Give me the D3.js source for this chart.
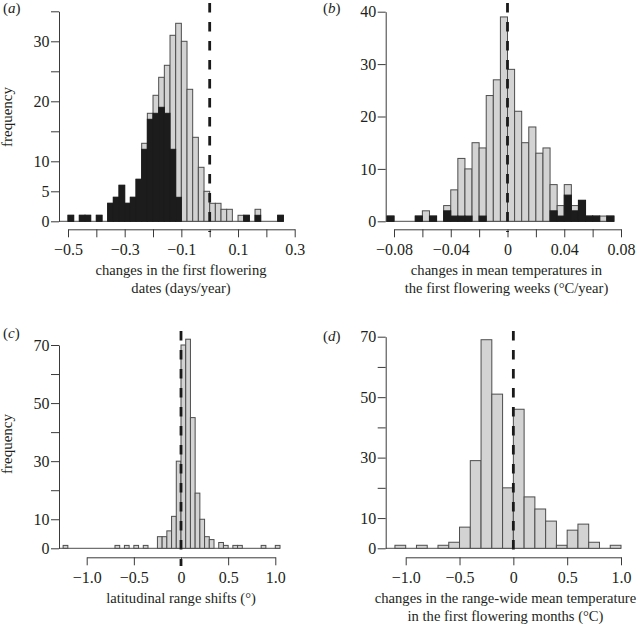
<!DOCTYPE html>
<html><head><meta charset="utf-8">
<script src="https://cdn.jsdelivr.net/npm/d3@7/dist/d3.min.js"></script>
<style>
body{margin:0;background:#fff}
text{font-family:"Liberation Serif","Times New Roman",serif;fill:#231f20}
</style>
</head><body><svg id="c" width="642" height="624"></svg>
<script>
// ---------- data ----------
const aEdges = [-0.50,-0.48,-0.46,-0.44,-0.42,-0.40,-0.38,-0.36,-0.34,-0.32,-0.30,-0.28,-0.26,-0.24,-0.22,-0.20,-0.18,-0.16,-0.14,-0.12,-0.10,-0.08,-0.06,-0.04,-0.02,0.00,0.02,0.04,0.06,0.08,0.10,0.12,0.14,0.16,0.18,0.20,0.22,0.24];
const aTotal = [1,0,1,1,0,1,0,3,4,6,3,4,7,13,18,21,24,26,31,33,30,22,14,9,5,3,3,2,2,0,1,1,0,2,0,0,0,1];
const aBlack = [1,0,1,1,0,1,0,3,4,6,3,4,7,12,17,18,19,18,12,4,0,0,0,0,0,0,0,0,0,0,0,1,0,1,0,0,0,1];
const aBin = 0.02;

const bEdges = [-0.085,-0.080,-0.075,-0.070,-0.065,-0.060,-0.055,-0.050,-0.045,-0.040,-0.035,-0.030,-0.025,-0.020,-0.015,-0.010,-0.005,0.000,0.005,0.010,0.015,0.020,0.025,0.030,0.035,0.040,0.045,0.050,0.055,0.060,0.065,0.070];
const bTotal = [1,0,0,0,1,2,1,0,3,6,12,10,15,14,24,27,39,29,21,15,18,13,14,7,3,7,3,4,1,1,1,1];
const bBlack = [1,0,0,0,1,0,1,0,2,1,1,1,0,1,0,0,0,0,0,0,0,0,0,2,1,5,2,4,1,1,0,1];
const bBin = 0.005;

const cEdges = [-1.25,-1.20,-1.15,-1.10,-1.05,-1.00,-0.95,-0.90,-0.85,-0.80,-0.75,-0.70,-0.65,-0.60,-0.55,-0.50,-0.45,-0.40,-0.35,-0.30,-0.25,-0.20,-0.15,-0.10,-0.05,0.00,0.05,0.10,0.15,0.20,0.25,0.30,0.35,0.40,0.45,0.50,0.55,0.60,0.65,0.70,0.75,0.80,0.85,0.90,0.95,1.00];
const cCounts = [1,0,0,0,0,0,0,0,0,0,0,1,0,1,0,1,0,1,0,0,4,4,6,11,30,70,72,45,19,10,4,3,0,2,1,0,1,1,0,0,0,0,1,0,0,1];
const cBin = 0.05;

const dEdges = [-1.1,-1.0,-0.9,-0.8,-0.7,-0.6,-0.5,-0.4,-0.3,-0.2,-0.1,0.0,0.1,0.2,0.3,0.4,0.5,0.6,0.7,0.8,0.9];
const dCounts = [1,0,1,0,1,2,7,29,69,51,20,46,17,13,9,1,6,8,2,0,1];
const dBin = 0.1;

// ticks
const aXTicks = [-0.5,-0.4,-0.3,-0.2,-0.1,0,0.1,0.2,0.3];
const aXLabeled = [-0.5,-0.3,-0.1,0.1,0.3];
const aYTicks = [0,5,10,15,20,25,30,35];
const aYLabeled = [0,5,10,20,30];
const bXTicks = [-0.08,-0.06,-0.04,-0.02,0,0.02,0.04,0.06,0.08];
const bXLabeled = [-0.08,-0.04,0,0.04,0.08];
const bYTicks = [0,10,20,30,40];
const bYLabeled = [0,10,20,30,40];
const cXTicks = [-1,-0.5,0,0.5,1];
const cXLabeled = [-1,-0.5,0,0.5,1];
const cYTicks = [0,10,20,30,40,50,60,70];
const cYLabeled = [0,10,30,50,70];
const dXTicks = [-1,-0.5,0,0.5,1];
const dXLabeled = [-1,-0.5,0,0.5,1];
const dYTicks = [0,10,20,30,40,50,60,70];
const dYLabeled = [0,10,30,50,70];

const aTitle = ["changes in the first flowering","dates (days/year)"];
const bTitle = ["changes in mean temperatures in","the first flowering weeks (\u00B0C/year)"];
const cTitle = ["latitudinal range shifts (\u00B0)"];
const dTitle = ["changes in the range-wide mean temperature","in the first flowering months (\u00B0C)"];

// ---------- drawing ----------
const svg = d3.select("#c");
const FS = 14.6, TFS = 16;
const GREY = "#d3d3d3", EDGE = "#4d4d4d", BLACK = "#1c1c1c", AX = "#3a3a3a";

function minusFmt(dec){
  return d => d === 0 ? "0" : d3.format("." + dec + "f")(d).replace("-", "\u2212");
}

function panel(p){
  const g = svg.append("g");
  const x = d3.scaleLinear().domain(p.xDom).range(p.xRange);
  const y = d3.scaleLinear().domain(p.yDom).range(p.yRange);
  const y0 = y(0);

  // baseline
  const lastEnd = p.edges[p.edges.length-1] + p.bin;
  g.append("line").attr("x1", p.yAxisX).attr("x2", x(lastEnd))
    .attr("y1", y0).attr("y2", y0).attr("stroke", EDGE).attr("stroke-width", 1);

  const idx = d3.range(p.edges.length);
  g.append("g").selectAll("rect").data(idx.filter(i => p.total[i] > 0)).join("rect")
    .attr("x", i => x(p.edges[i]))
    .attr("width", i => x(p.edges[i] + p.bin) - x(p.edges[i]))
    .attr("y", i => y(p.total[i]))
    .attr("height", i => y0 - y(p.total[i]))
    .attr("fill", GREY).attr("stroke", EDGE).attr("stroke-width", 1);
  if (p.black){
    g.append("g").selectAll("rect").data(idx.filter(i => p.black[i] > 0)).join("rect")
      .attr("x", i => x(p.edges[i]))
      .attr("width", i => x(p.edges[i] + p.bin) - x(p.edges[i]))
      .attr("y", i => y(p.black[i]))
      .attr("height", i => y0 - y(p.black[i]))
      .attr("fill", BLACK).attr("stroke", BLACK).attr("stroke-width", 1);
  }

  // y axis
  const fy = d3.format("d");
  g.append("g").attr("transform", `translate(${p.yAxisX},0)`)
    .attr("color", AX)
    .call(d3.axisLeft(y).tickValues(p.yTicks).tickSizeInner(8).tickSizeOuter(0).tickPadding(1.5)
      .tickFormat(d => p.yLabeled.includes(d) ? fy(d) : ""))
    .call(s => s.selectAll("text").attr("font-size", TFS).attr("font-family", null).style("fill", "#231f20"));

  // x axis
  const fx = minusFmt(p.dec);
  g.append("g").attr("transform", `translate(0,${p.xAxisY})`)
    .attr("color", AX)
    .call(d3.axisBottom(x).tickValues(p.xTicks).tickSizeInner(8).tickSizeOuter(0).tickPadding(6)
      .tickFormat(d => p.xLabeled.some(v => Math.abs(v - d) < 1e-9) ? fx(d) : ""))
    .call(s => s.selectAll("text").attr("font-size", TFS).attr("font-family", null).style("fill", "#231f20"));

  // dashed zero line
  g.append("line").attr("x1", x(0)).attr("x2", x(0))
    .attr("y1", p.dashY[0]).attr("y2", p.dashY[1])
    .attr("stroke", "#1a1a1a").attr("stroke-width", 2.8).attr("stroke-dasharray", "9.5,9.5");

  // x title
  p.title.forEach((t, i) => {
    g.append("text").attr("x", p.titleX).attr("y", p.xAxisY + 46 + i * 17.5)
      .attr("text-anchor", "middle").attr("font-size", FS).text(t);
  });

  // y title
  if (p.ylab){
    g.append("text").attr("transform", `translate(${p.ylab[0]},${p.ylab[1]}) rotate(-90)`)
      .attr("text-anchor", "middle").attr("font-size", 15).text("frequency");
  }

  // panel tag
  const tg = g.append("text").attr("x", p.tag[0]).attr("y", p.tag[1]).attr("font-size", 15);
  tg.append("tspan").text("(");
  tg.append("tspan").attr("font-style", "italic").text(p.letter);
  tg.append("tspan").text(")");
}

panel({edges:aEdges, total:aTotal, black:aBlack, bin:aBin,
  xDom:[-0.5,0.3], xRange:[68,294.7], yDom:[0,35], yRange:[221.3,11.3],
  yAxisX:59, xAxisY:229.3, xTicks:aXTicks, xLabeled:aXLabeled, yTicks:aYTicks, yLabeled:aYLabeled,
  dec:1, dashY:[3,232], title:aTitle, titleX:181, ylab:[12,117], tag:[3,13], letter:"a"});

panel({edges:bEdges, total:bTotal, black:bBlack, bin:bBin,
  xDom:[-0.08,0.08], xRange:[394,621], yDom:[0,40], yRange:[221.3,11.7],
  yAxisX:385.7, xAxisY:229.3, xTicks:bXTicks, xLabeled:bXLabeled, yTicks:bYTicks, yLabeled:bYLabeled,
  dec:2, dashY:[3,232], title:bTitle, titleX:506.5, ylab:null, tag:[323,13], letter:"b"});

panel({edges:cEdges, total:cCounts, black:null, bin:cBin,
  xDom:[-1,1], xRange:[86.7,275.3], yDom:[0,70], yRange:[548.3,345],
  yAxisX:59, xAxisY:557.3, xTicks:cXTicks, xLabeled:cXLabeled, yTicks:cYTicks, yLabeled:cYLabeled,
  dec:1, dashY:[331,566], title:cTitle, titleX:181, ylab:[12,444], tag:[3,338], letter:"c"});

panel({edges:dEdges, total:dCounts, black:null, bin:dBin,
  xDom:[-1,1], xRange:[405.7,621], yDom:[0,70], yRange:[548.3,336.7],
  yAxisX:385.7, xAxisY:557.3, xTicks:dXTicks, xLabeled:dXLabeled, yTicks:dYTicks, yLabeled:dYLabeled,
  dec:1, dashY:[331,559], title:dTitle, titleX:505.5, ylab:null, tag:[323,341], letter:"d"});
</script>
</body></html>
